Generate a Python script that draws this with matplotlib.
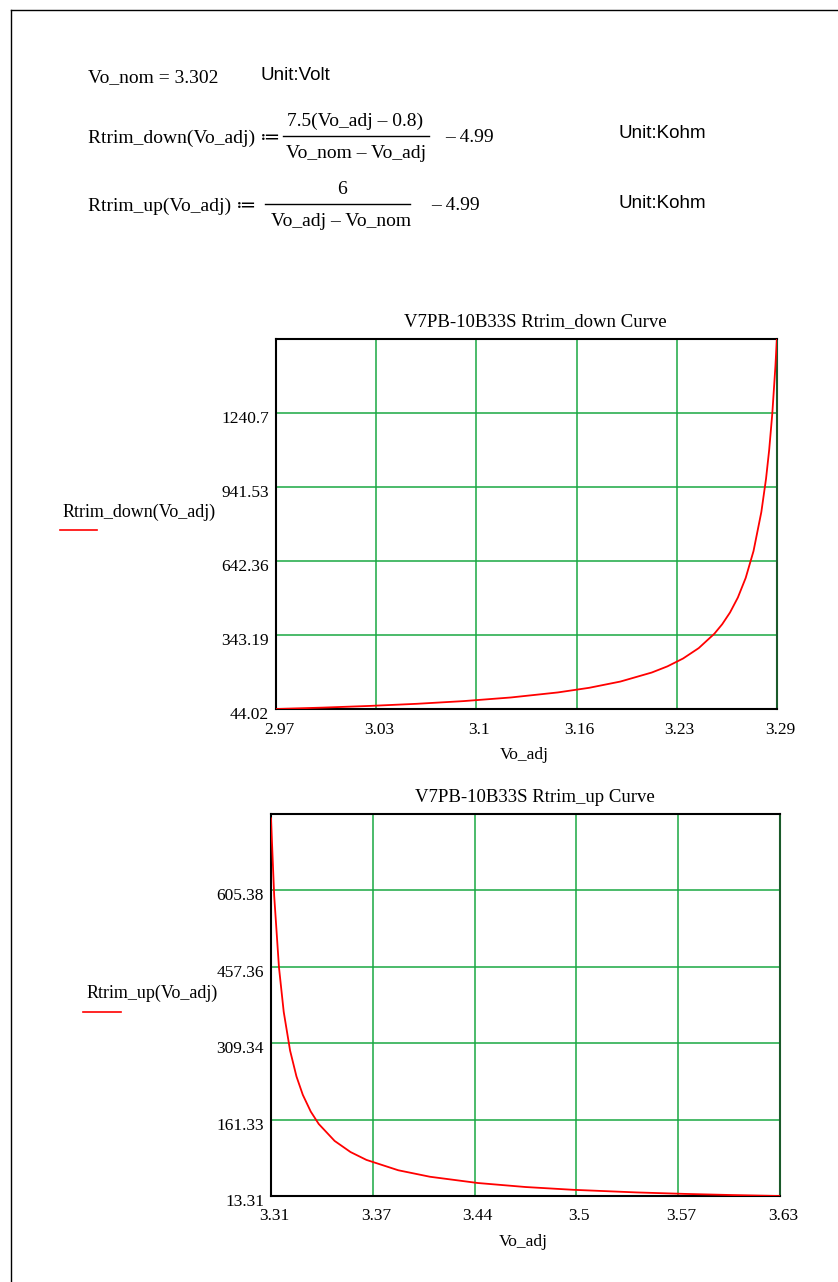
import matplotlib
matplotlib.use("Agg")
import matplotlib.pyplot as plt
from matplotlib.lines import Line2D
from matplotlib.transforms import ScaledTranslation

plt.rcParams["font.family"] = ["Liberation Serif", "DejaVu Serif"]

# Rtrim_down curve, values (Kohm)
down_v = [2.97, 3.00, 3.03, 3.06, 3.09, 3.12, 3.15, 3.17, 3.19, 3.21, 3.22, 3.23,
          3.24, 3.25, 3.255, 3.26, 3.265, 3.27, 3.275, 3.28, 3.283, 3.285, 3.287,
          3.289, 3.29]
down_r = [44.03, 49.65, 56.50, 65.05, 76.02, 90.61, 110.96, 129.67, 155.05, 191.48,
          216.35, 248.14, 290.17, 348.38, 386.77, 434.30, 494.67, 573.92, 682.51,
          840.46, 975.14, 1091.33, 1238.51, 1430.97, 1551.26]

# Rtrim_up curve
up_v = [3.31, 3.312, 3.315, 3.318, 3.322, 3.326, 3.33, 3.335, 3.34, 3.35, 3.36,
        3.37, 3.39, 3.41, 3.44, 3.47, 3.50, 3.54, 3.57, 3.60, 3.63]
up_r = [745.01, 595.01, 456.55, 370.01, 295.01, 245.01, 209.30, 176.83, 152.90,
        120.01, 98.46, 83.25, 63.19, 50.57, 38.49, 30.72, 25.31, 20.22, 17.40,
        15.14, 13.30]

down_xticks = [2.97, 3.034, 3.098, 3.162, 3.226, 3.29]
down_xlabels = ["2.97", "3.03", "3.1", "3.16", "3.23", "3.29"]
down_yticks = [44.02, 343.19, 642.36, 941.53, 1240.7, 1539.87]
down_ylabels = ["44.02", "343.19", "642.36", "941.53", "1240.7", ""]

up_xticks = [3.31, 3.374, 3.438, 3.502, 3.566, 3.63]
up_xlabels = ["3.31", "3.37", "3.44", "3.5", "3.57", "3.63"]
up_yticks = [13.31, 161.33, 309.34, 457.36, 605.38, 753.4]
up_ylabels = ["13.31", "161.33", "309.34", "457.36", "605.38", ""]

W, H = 838, 1282
fig = plt.figure(figsize=(W / 100, H / 100), dpi=100)


def fx(x):
    return x / W


def fy(y):
    return 1 - y / H


def txt(x, y, s, size=14, ha="left", family=None):
    kw = {}
    if family:
        kw["family"] = family
    fig.text(fx(x), fy(y), s, fontsize=size, ha=ha, va="center", **kw)


def hline(x0, x1, y, color="black", lw=1.0):
    fig.add_artist(Line2D([fx(x0), fx(x1)], [fy(y), fy(y)], color=color, lw=lw,
                          transform=fig.transFigure))


# page border (top and left only)
fig.add_artist(Line2D([fx(11), fx(11)], [fy(10), 0], color="black", lw=1.0,
                      transform=fig.transFigure))
fig.add_artist(Line2D([fx(11), 1], [fy(10), fy(10)], color="black", lw=1.0,
                      transform=fig.transFigure))

# worksheet formulas
sans = ["Liberation Sans", "DejaVu Sans"]
txt(88, 78, "Vo_nom = 3.302")
txt(260, 76, "Unit:Volt", size=13.5, family=sans)

txt(88, 138, "Rtrim_down(Vo_adj) \u2254")
txt(355, 121, "7.5(Vo_adj \u2013 0.8)", ha="center")
hline(283, 429, 136)
txt(356, 153, "Vo_nom \u2013 Vo_adj", ha="center")
txt(445, 137, "\u2013 4.99")
txt(618, 134, "Unit:Kohm", size=13.5, family=sans)

txt(88, 206, "Rtrim_up(Vo_adj) \u2254")
txt(342, 189, "6", ha="center")
hline(265, 410, 204)
txt(341, 222, "Vo_adj \u2013 Vo_nom", ha="center")
txt(431, 206, "\u2013 4.99")
txt(618, 203, "Unit:Kohm", size=13.5, family=sans)


def make_plot(box, xs, ys, xticks, xlabels, yticks, ylabels, title, ylab, ylab_x,
              ylab_y, line_x0, line_x1, line_y):
    left, right, top, bottom = box
    ax = fig.add_axes([fx(left), fy(bottom), (right - left) / W, (bottom - top) / H])
    ax.plot(xs, ys, color="red", lw=1.3, zorder=3)
    ax.set_xlim(xticks[0], xticks[-1])
    ax.set_ylim(yticks[0], yticks[-1])
    ax.set_xticks(xticks)
    ax.set_xticklabels(xlabels)
    ax.set_yticks(yticks)
    ax.set_yticklabels(ylabels)
    ax.tick_params(length=0, labelsize=12.5)
    ax.tick_params(axis="x", pad=9)
    ax.tick_params(axis="y", pad=5)
    shift_x = ScaledTranslation(3 / 100, 0, fig.dpi_scale_trans)
    shift_y = ScaledTranslation(0, -4 / 100, fig.dpi_scale_trans)
    for lab in ax.get_xticklabels():
        lab.set_transform(lab.get_transform() + shift_x)
    for lab in ax.get_yticklabels():
        lab.set_transform(lab.get_transform() + shift_y)
    ax.grid(True, color="#1aa843", lw=1.1)
    for sp in ax.spines.values():
        sp.set_linewidth(1.5)
        sp.set_color("black")
    ax.spines["right"].set_color("#1a5a2a")
    cx = (left + right) / 2
    txt(cx + 9, top - 17, title, size=13.5, ha="center")
    txt(cx - 2, bottom + 46, "Vo_adj", size=12.5, ha="center")
    txt(ylab_x, ylab_y, ylab, size=13)
    hline(line_x0, line_x1, line_y, color="red", lw=1.2)
    return ax


make_plot((276, 777, 339, 709), down_v, down_r, down_xticks, down_xlabels,
          down_yticks, down_ylabels, "V7PB-10B33S Rtrim_down Curve",
          "Rtrim_down(Vo_adj)", 63, 512, 60, 97, 530)
make_plot((271, 780, 814, 1196), up_v, up_r, up_xticks, up_xlabels,
          up_yticks, up_ylabels, "V7PB-10B33S Rtrim_up Curve",
          "Rtrim_up(Vo_adj)", 87, 993, 83, 121, 1012)

fig.savefig("out.png", dpi=100)
